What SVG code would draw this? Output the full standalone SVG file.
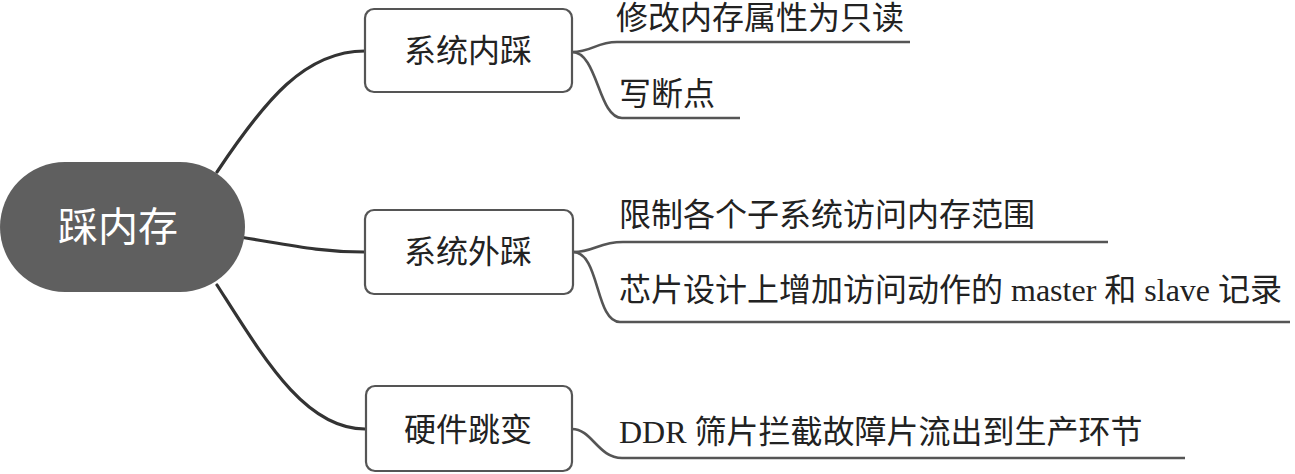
<svg xmlns="http://www.w3.org/2000/svg" width="1295" height="474" viewBox="0 0 1295 474">
<style>
.box{fill:#fff;stroke:#555;stroke-width:2.2}
.t{font-family:"Liberation Serif","Noto Sans CJK SC",serif;font-size:32px;fill:#222}
.main{fill:none;stroke:#333;stroke-width:3.2;stroke-linecap:round}
.sub{fill:none;stroke:#555;stroke-width:2.6}
</style>
<g id="connectors">
<path class="main" d="M217,172 C265,100 305,51 365,51"/>
<path class="main" d="M240,237 C290,245 320,252 364,252"/>
<path class="main" d="M217,285 C265,360 305,429 365,429"/>
<path class="sub" d="M572,52 C592,52 596,42 617,42 L910,42"/>
<path class="sub" d="M572,52 C598,52 598,118 622,118 L740,118"/>
<path class="sub" d="M573,252 C595,252 598,242 623,242 L1108,242"/>
<path class="sub" d="M573,252 C600,252 595,322 620,322 L1290,322"/>
<path class="sub" d="M572,429 C592,429 598,458 622,458 L1185,458"/>
</g>
<g id="root">
<rect x="0" y="162" width="245" height="130" rx="65" fill="#5f5f5f"/>
<text x="118" y="241" text-anchor="middle" font-family="Noto Sans CJK SC, sans-serif" font-size="40" fill="#fff">踩内存</text>
</g>
<g id="n1">
<rect class="box" x="365" y="9" width="207" height="83" rx="9"/>
<text class="t" x="468" y="62" text-anchor="middle">系统内踩</text>
</g>
<g id="n2">
<rect class="box" x="365" y="210" width="208" height="84" rx="9"/>
<text class="t" x="468" y="263" text-anchor="middle">系统外踩</text>
</g>
<g id="n3">
<rect class="box" x="366" y="386" width="206" height="85" rx="9"/>
<text class="t" x="468" y="441" text-anchor="middle">硬件跳变</text>
</g>
<g id="n1a"><text class="t" x="616" y="29">修改内存属性为只读</text></g>
<g id="n1b"><text class="t" x="619" y="105">写断点</text></g>
<g id="n2a"><text class="t" x="619" y="226">限制各个子系统访问内存范围</text></g>
<g id="n2b"><text class="t" x="619" y="301">芯片设计上增加访问动作的 master 和 slave 记录</text></g>
<g id="n3a"><text class="t" x="619" y="443">DDR 筛片拦截故障片流出到生产环节</text></g>
</svg>
